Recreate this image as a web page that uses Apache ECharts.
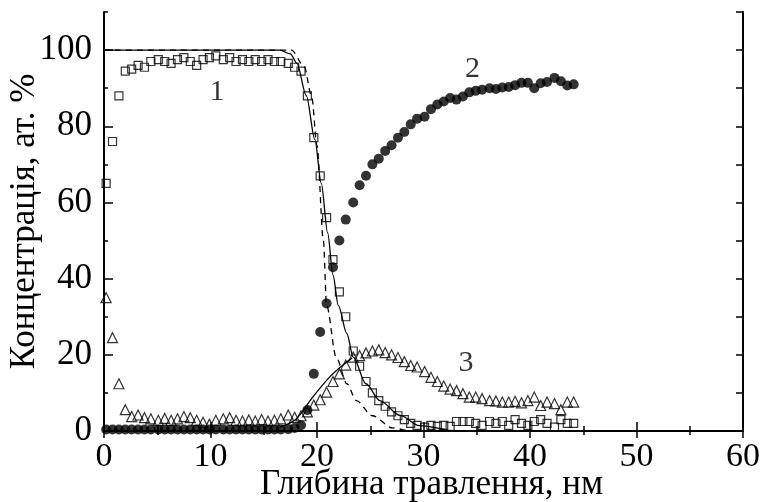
<!DOCTYPE html>
<html>
<head>
<meta charset="utf-8">
<script src="https://cdn.jsdelivr.net/npm/echarts@6/dist/echarts.min.js"></script>
<style>html,body{margin:0;padding:0;background:#fff;}#c{width:760px;height:502px;}</style>
</head>
<body>
<div id="c"></div>
<script>
// Depth positions (nm) of the measured points
const depth = [0.2,0.8,1.4,2.0,2.6,3.2,3.8,4.4,5.1,5.7,6.3,6.9,7.5,8.1,8.7,9.3,9.9,10.5,11.2,11.8,
  12.4,13.0,13.6,14.2,14.8,15.4,16.0,16.6,17.3,17.9,18.5,19.1,19.7,20.3,20.9,21.5,22.1,22.7,23.4,24.0,
  24.6,25.2,25.8,26.4,27.0,27.6,28.2,28.8,29.4,30.1,30.7,31.3,31.9,32.5,33.1,33.7,34.3,34.9,35.5,36.2,
  36.8,37.4,38.0,38.6,39.2,39.8,40.4,41.0,41.6,42.3,42.9,43.5,44.1];
// Curve 1 (open squares)
const conc1 = [65,76,88,94.5,95,96,95.5,97,97.5,97,96.5,97.5,98,97,96,97.5,98,98.5,97.5,98,
  97,97.5,97,97.5,97,97.5,97,97,96.5,95.5,94.5,88,77,67,56,45,36.5,30,21,17,
  13,10,8,6.5,5,4,3,2,1.5,1,1.5,1.2,1.5,1.2,2.5,2.5,2.5,2,1.5,2.5,
  2,2.5,1.5,3,2,1.5,2.5,3,2,1,3,2,2];
// Curve 2 (filled circles)
const conc2 = [0.4,0.4,0.4,0.4,0.4,0.4,0.4,0.4,0.4,0.4,0.4,0.4,0.4,0.4,0.4,0.4,0.4,0.4,0.4,0.4,
  0.4,0.4,0.4,0.4,0.4,0.4,0.4,0.4,0.5,0.8,1.5,5.5,15,26,33.5,43,50,55.5,60,64.5,
  67,70,71.5,73.5,75,77,78.5,80.5,82,82.5,84.5,85.7,86.5,87.4,87,87.8,88.9,89.3,89.6,90,
  89.8,90.2,90.3,90.8,91.4,91.4,90,91.3,91.6,92.7,91.8,90.7,91];
// Curve 3 (open triangles)
const conc3 = [35,24.5,12.4,5.6,3.8,4.2,3.5,3.2,2.8,3.3,2.8,3.2,3.8,3.5,2.8,2.3,1.8,2.8,3.2,3.5,
  2.8,2.6,2.9,2.6,3,2.6,2.8,3.2,4.2,3.6,4,5,6.8,8.2,10.2,13,15,17.3,19.4,19.8,
  20.5,21,21.3,20.6,20,19.3,18.2,17.2,16.8,15.6,14.1,13,11.8,11,10.6,9.8,8.9,8.9,8.5,8,
  7.9,7.6,7.6,7.8,7.4,8,8.9,6.7,7.6,7.2,5.6,7.6,7.6];
// Model curves
const fitSolidX = [0,16.5,17.5,18.1,19.0,19.8,20.4,21.0,21.5,22.0,22.8,23.4,24.6,25.9,27.8,29.6,32];
const fitSolidY = [100,100,99,96.6,88,76.5,65,52,41,33,25.6,19.4,12.4,8,4.1,1.4,0.4];
const fitRiseX = [16.5,18,19.6,21.2,22.3,23.3];
const fitRiseY = [1,3,8.9,14.2,17,19.2];
const fitDashX = [0,17.6,18.8,19.5,20.0,20.6,20.9,21.8,22.8,23.7,25.2,27.1,28.5];
const fitDashY = [100,100,95.7,87.8,75,50,33,19.4,12.4,8,4,0.8,0];
// Curve labels
const annotX = [10.6,34.6,34.0];
const annotY = [89,95,17.8];
const annotText = ['1','2','3'];

const xTitle = 'Глибина травлення, нм';
const yTitle = 'Концентрація, ат. %';

const zip = (a,b) => a.map((v,i)=>[v,b[i]]);
const FONT = 'Liberation Serif';
const blackLine = {lineStyle:{color:'#000',width:2}};

const chart = echarts.init(document.getElementById('c'), null, {renderer:'canvas'});
chart.setOption({
  backgroundColor:'#fff',
  animation:false,
  grid:{left:104,right:17,top:12,bottom:71,containLabel:false,outerBoundsMode:'none'},
  xAxis:[
    {type:'value',min:0,max:60,interval:10,position:'bottom',
     name:xTitle,nameLocation:'middle',nameGap:36,nameMoveOverlap:false,
     nameTextStyle:{fontFamily:FONT,fontSize:35,color:'#000',padding:[0,0,0,16]},
     axisLine:blackLine,splitLine:{show:false},
     axisTick:{inside:true,length:9,lineStyle:{color:'#000',width:1.5}},
     minorTick:{show:true,splitNumber:2,length:5,lineStyle:{color:'#000',width:1.5}},
     axisLabel:{fontFamily:FONT,fontSize:34,color:'#000',margin:9}},
    {type:'value',min:0,max:60,interval:10,position:'top',
     axisLine:blackLine,splitLine:{show:false},
     axisTick:{inside:true,length:7,lineStyle:{color:'#000',width:1.5}},
     minorTick:{show:true,splitNumber:2,length:4,lineStyle:{color:'#000',width:1.5}},
     axisLabel:{show:false}}
  ],
  yAxis:[
    {type:'value',min:0,max:110,interval:20,position:'left',
     name:yTitle,nameLocation:'middle',nameGap:62,nameRotate:90,nameMoveOverlap:false,
     nameTextStyle:{fontFamily:FONT,fontSize:35,color:'#000'},
     axisLine:blackLine,splitLine:{show:false},
     axisTick:{inside:true,length:9,lineStyle:{color:'#000',width:1.5}},
     axisLabel:{fontFamily:FONT,fontSize:35,color:'#000',margin:12,showMaxLabel:false,
       formatter:v => (v<=100 ? String(v) : '')}},
    {type:'value',min:0,max:110,interval:10,position:'left',
     axisLine:{show:false},splitLine:{show:false},
     axisTick:{inside:true,length:4,lineStyle:{color:'#000',width:1.5}},
     axisLabel:{show:false}},
    {type:'value',min:0,max:110,interval:10,position:'right',
     axisLine:blackLine,splitLine:{show:false},
     axisTick:{inside:true,length:7,lineStyle:{color:'#000',width:1.5}},
     axisLabel:{show:false}}
  ],
  series:[
    {type:'line',data:zip(fitSolidX,fitSolidY),showSymbol:false,smooth:0.3,smoothMonotone:'x',
     lineStyle:{color:'#000',width:1.3},z:2},
    {type:'line',data:zip(fitRiseX,fitRiseY),showSymbol:false,smooth:0.3,
     lineStyle:{color:'#000',width:1.3},z:2},
    {type:'line',data:zip(fitDashX,fitDashY),showSymbol:false,smooth:0.3,smoothMonotone:'x',
     lineStyle:{color:'#000',width:1.3,type:[6,5]},z:2},
    {type:'scatter',data:zip(depth,conc2),symbol:'circle',symbolSize:10,
     itemStyle:{color:'#000'},z:3},
    {type:'scatter',data:zip(depth,conc1),symbol:'rect',symbolSize:8,
     itemStyle:{color:'rgba(255,255,255,0)',borderColor:'#000',borderWidth:1.2},z:4},
    {type:'scatter',data:zip(depth,conc3),symbol:'triangle',symbolSize:10,
     itemStyle:{color:'rgba(255,255,255,0)',borderColor:'#000',borderWidth:1.2},z:4},
    {type:'scatter',data:annotX.map((x,i)=>({value:[x,annotY[i]],name:annotText[i]})),
     symbolSize:0,silent:true,
     label:{show:true,position:'inside',formatter:p=>p.name,fontFamily:FONT,fontSize:30,color:'#000'},z:5}
  ]
});
</script>
</body>
</html>
